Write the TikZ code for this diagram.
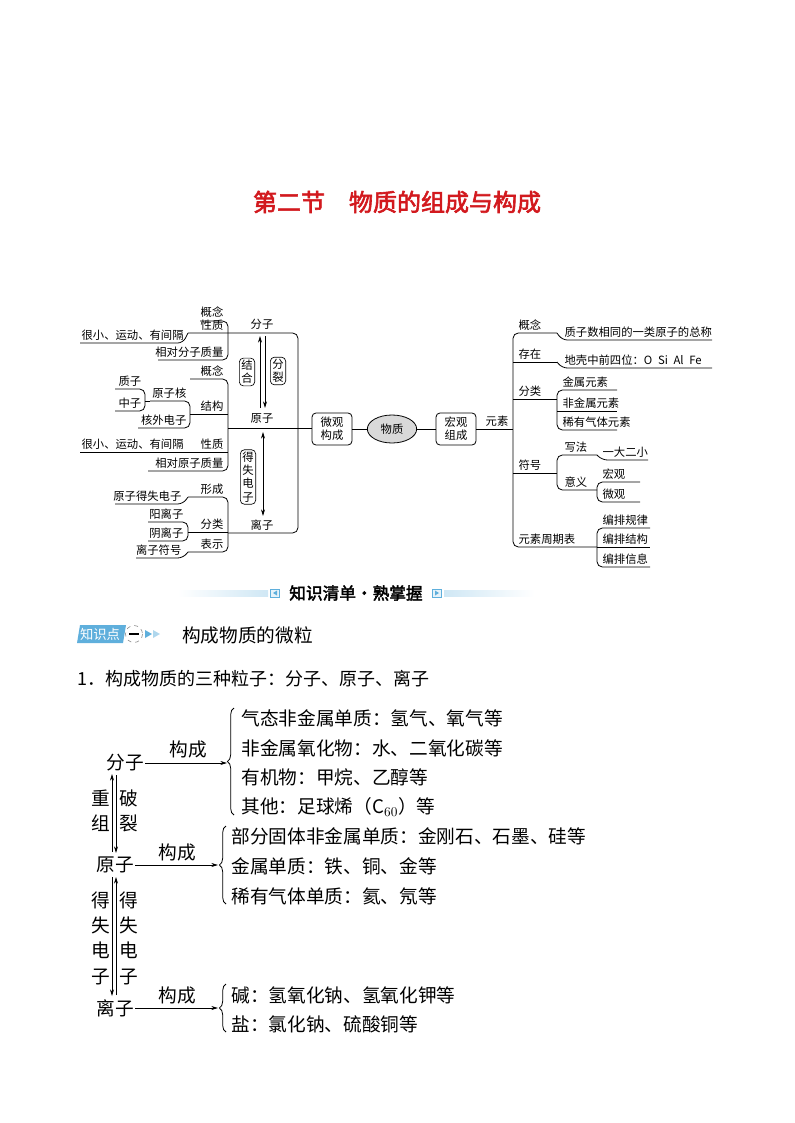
\documentclass[tikz,border=0pt]{standalone}
\usepackage{fontspec}
\setmainfont{Noto Sans CJK SC}[AutoFakeBold=2.5]
\usetikzlibrary{arrows.meta,decorations.pathreplacing,shapes.geometric}
\definecolor{titred}{RGB}{210,25,30}
\definecolor{tagblue}{RGB}{95,175,220}
\begin{document}
\begin{tikzpicture}[x=0.75pt,y=-0.75pt,
  ln/.style={line width=0.6pt,rounded corners=4pt},
  lab/.style={font=\fontsize{8.5}{9}\selectfont,inner sep=1pt},
  bx/.style={draw,line width=0.6pt,rounded corners=3pt,align=center,font=\fontsize{8.5}{10}\selectfont,minimum width=30pt,minimum height=24pt,inner sep=1pt},
  cb/.style={draw,line width=0.5pt,rounded corners=3pt,align=center,font=\fontsize{8.5}{10}\selectfont,inner sep=1.5pt},
  big/.style={font=\fontsize{14}{19}\selectfont,inner sep=1pt},
  ar/.style={line width=0.6pt,-{Stealth[length=5pt,width=3pt]}}]
\useasboundingbox (0,0) rectangle (794,1123);
% title
\node[font=\fontsize{18}{20}\selectfont\bfseries,text=titred] (title) at (397,202) {第二节\quad 物质的组成与构成};
% ===== left mind map =====
\draw[ln] (200,321) -- (228,321) -- (228,360) -- (158,360);
\draw[ln] (188,333) -- (298,333) -- (298,533) -- (228,533);
\draw[ln] (80,343) -- (183,343) -- (188,333);
\node[lab,anchor=south east] (a1) at (225,319) {概念};
\node[lab,anchor=south east] (a2) at (225,332) {性质};
\node[lab,anchor=south west] (a3) at (80,342) {很小、运动、有间隔};
\node[lab,anchor=south east] (a4) at (225,359) {相对分子质量};
\draw[ln] (190,379) -- (228,379) -- (228,471) -- (148,471);
\draw[ln] (190,414) -- (228,414);
\draw[ln] (228,428) -- (312,428);
\draw[ln] (80,452) -- (228,452);
\draw[ln] (150,401) -- (190,401) -- (190,428) -- (138,428);
\draw[ln] (115,389) -- (145,389) -- (145,411) -- (115,411);
\draw[ln] (145,401) -- (150,401);
\node[lab,anchor=south east] (b1) at (225,378) {概念};
\node[lab,anchor=south east] (b2) at (225,413) {结构};
\node[lab,anchor=south east] (b3) at (188,400) {原子核};
\node[lab,anchor=south east] (b4) at (188,427) {核外电子};
\node[lab,anchor=south west] (b5) at (117,388) {质子};
\node[lab,anchor=south west] (b6) at (117,410) {中子};
\node[lab,anchor=south west] (b7) at (80,451) {很小、运动、有间隔};
\node[lab,anchor=south east] (b8) at (225,451) {性质};
\node[lab,anchor=south east] (b9) at (225,470) {相对原子质量};
\draw[ln] (188,497) -- (228,497) -- (228,552) -- (188,552);
\draw[ln] (188,532) -- (228,532);
\draw[ln] (115,504) -- (183,504) -- (188,497);
\draw[ln] (148,522) -- (188,522) -- (188,541) -- (148,541);
\draw[ln] (136,558) -- (183,558) -- (188,552);
\node[lab,anchor=south east] (c1) at (225,496) {形成};
\node[lab,anchor=south east] (c2) at (183,503) {原子得失电子};
\node[lab,anchor=south east] (c3) at (185,521) {阳离子};
\node[lab,anchor=south east] (c4) at (185,540) {阴离子};
\node[lab,anchor=south east] (c5) at (225,531) {分类};
\node[lab,anchor=south east] (c6) at (225,551) {表示};
\node[lab,anchor=south east] (c7) at (183,557) {离子符号};
\node[lab] (fz) at (262,324) {分子};
\node[lab] (yz) at (262,419) {原子};
\node[lab] (lz) at (262,525) {离子};
\draw[ar] (260,408) -- (260,336);
\draw[ar] (265,336) -- (265,408);
\draw[line width=0.6pt,{Stealth[length=5pt,width=3pt]}-{Stealth[length=5pt,width=3pt]}] (263,432) -- (263,516);
\node[cb] (jh) at (247,372) {结\\合};
\node[cb] (fl) at (278,371) {分\\裂};
\node[cb] (ds) at (248,477) {得\\失\\电\\子};
\node[bx] (wg) at (332,429) {微观\\构成};
\node[ellipse,draw,fill=gray!30,line width=0.6pt,minimum width=37pt,minimum height=21pt,font=\fontsize{8.5}{10}\selectfont] (wz) at (392,429) {物质};
\node[bx] (hg) at (456,429) {宏观\\组成};
\draw[ln] (wg) -- (wz);
\draw[ln] (wz) -- (hg);
\draw[ln] (hg.east) -- (513,429);
\node[lab,anchor=south east] (ys) at (510,428) {元素};
% ===== right mind map =====
\draw[ln] (557,333) -- (513,333) -- (513,547) -- (597,547);
\draw[ln] (513,362) -- (557,362);
\draw[ln] (513,399) -- (557,399);
\draw[ln] (513,473) -- (557,473);
\draw[ln] (557,333) -- (562,340) -- (712,340);
\draw[ln] (557,362) -- (562,368) -- (712,368);
\draw[ln] (617,390) -- (557,390) -- (557,430) -- (617,430);
\draw[ln] (557,411) -- (617,411);
\draw[ln] (597,455) -- (557,455) -- (557,490) -- (597,490);
\draw[ln] (597,455) -- (602,460) -- (648,460);
\draw[ln] (640,482) -- (597,482) -- (597,502) -- (640,502);
\draw[ln] (650,528) -- (597,528) -- (597,567) -- (650,567);
\draw[ln] (597,547) -- (650,547);
\node[lab,anchor=south west] (r1) at (517,332) {概念};
\node[lab,anchor=south west] (r2) at (563,339) {质子数相同的一类原子的总称};
\node[lab,anchor=south west] (r3) at (517,361) {存在};
\node[lab,anchor=south west] (r4) at (563,367) {地壳中前四位：O\enspace Si\enspace Al\enspace Fe};
\node[lab,anchor=south west] (r5) at (517,398) {分类};
\node[lab,anchor=south west] (r6) at (561,389) {金属元素};
\node[lab,anchor=south west] (r7) at (561,410) {非金属元素};
\node[lab,anchor=south west] (r8) at (561,429) {稀有气体元素};
\node[lab,anchor=south west] (r9) at (517,472) {符号};
\node[lab,anchor=south west] (r10) at (563,454) {写法};
\node[lab,anchor=south west] (r11) at (601,459) {一大二小};
\node[lab,anchor=south west] (r12) at (563,489) {意义};
\node[lab,anchor=south west] (r13) at (601,481) {宏观};
\node[lab,anchor=south west] (r14) at (601,501) {微观};
\node[lab,anchor=south west] (r15) at (517,546) {元素周期表};
\node[lab,anchor=south west] (r16) at (601,527) {编排规律};
\node[lab,anchor=south west] (r17) at (601,546) {编排结构};
\node[lab,anchor=south west] (r18) at (601,566) {编排信息};
% ===== banner =====
\shade[left color=white,right color=tagblue!30] (178,590) rectangle (268,596);
\shade[left color=tagblue!30,right color=white] (444,590) rectangle (534,596);
\node[draw=tagblue,fill=tagblue!15,inner sep=0pt,minimum width=7pt,minimum height=6pt] (il) at (275,593) {};
\fill[tagblue] (273,593) -- (277,590.5) -- (277,595.5) -- cycle;
\node[draw=tagblue,fill=tagblue!15,inner sep=0pt,minimum width=7pt,minimum height=6pt] (ir) at (437,593) {};
\fill[tagblue] (439,593) -- (435,590.5) -- (435,595.5) -- cycle;
\node[font=\fontsize{12.5}{14}\selectfont\bfseries] (bn) at (356,593) {知识清单·熟掌握};
% tag
\fill[tagblue] (80,625) -- (126,625) -- (123,643) -- (77,643) -- cycle;
\node[text=white,font=\fontsize{10}{12}\selectfont] (zsd) at (100,634) {知识点};
\draw[gray,dashed,fill=white] (134,634) circle (8.5);
\draw[line width=1pt] (129,634) -- (139,634);
\fill[tagblue] (145,630) -- (152,634) -- (145,638) -- cycle;
\fill[tagblue!50] (153,630) -- (160,634) -- (153,638) -- cycle;
\node[anchor=west,font=\fontsize{14}{16}\selectfont,inner sep=0pt] (kt) at (182,635) {构成物质的微粒};
\node[anchor=west,font=\fontsize{13.5}{16}\selectfont,inner sep=0pt] (h1) at (77,679) {1．构成物质的三种粒子：分子、原子、离子};
% ===== bottom =====
\node[big] (F) at (125,763) {分子};
\node[big] (Y) at (115,865) {原子};
\node[big] (L) at (115,1008) {离子};
\draw[ar] (F.east) -- (227,763);
\draw[ar] (Y.east) -- (218,865);
\draw[ar] (L.east) -- (218,1008);
\node[big] (g1) at (188,749) {构成};
\node[big] (g2) at (177,852) {构成};
\node[big] (g3) at (177,995) {构成};
\draw[line width=0.6pt,decorate,decoration={brace,amplitude=5pt}] (234,815) -- (234,708);
\draw[line width=0.6pt,decorate,decoration={brace,amplitude=5pt}] (226,904) -- (226,826);
\draw[line width=0.6pt,decorate,decoration={brace,amplitude=5pt}] (226,1032) -- (226,984);
\node[big,anchor=west] (t1) at (240,718) {气态非金属单质：氢气、氧气等};
\node[big,anchor=west] (t2) at (240,748) {非金属氧化物：水、二氧化碳等};
\node[big,anchor=west] (t3) at (240,777) {有机物：甲烷、乙醇等};
\node[big,anchor=west] (t4) at (240,807) {其他：足球烯（C$_{60}$）等};
\node[big,anchor=west] (t5) at (230,836) {部分固体非金属单质：金刚石、石墨、硅等};
\node[big,anchor=west] (t6) at (230,866) {金属单质：铁、铜、金等};
\node[big,anchor=west] (t7) at (230,896) {稀有气体单质：氦、氖等};
\node[big,anchor=west] (t8) at (230,995) {碱：氢氧化钠、氢氧化钾等};
\node[big,anchor=west] (t9) at (230,1024) {盐：氯化钠、硫酸铜等};
\draw[ar] (112,852) -- (112,774);
\draw[ar] (116,775) -- (116,853);
\draw[ar] (116,995) -- (116,877);
\draw[ar] (112,877) -- (112,996);
\node[big,align=center] (cz) at (101,811) {重\\组};
\node[big,align=center] (pl) at (129,811) {破\\裂};
\node[big,align=center] (d1) at (101,938) {得\\失\\电\\子};
\node[big,align=center] (d2) at (129,938) {得\\失\\电\\子};
\end{tikzpicture}
\end{document}
